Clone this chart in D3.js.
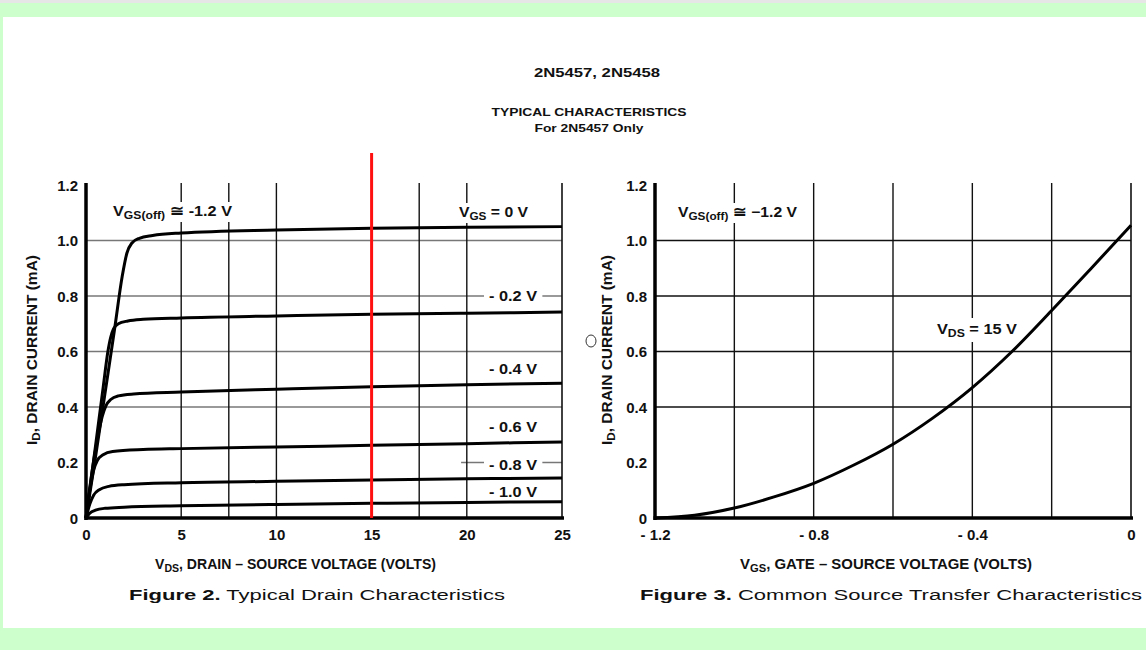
<!DOCTYPE html>
<html><head><meta charset="utf-8">
<script src="https://cdn.jsdelivr.net/npm/d3@7"></script>
<style>body{margin:0;background:#ccffcc}svg{display:block}</style>
</head><body>
<svg id="c" width="1146" height="650"></svg>
<script>
// ---------- data ----------
const leftXTicks = [0,5,10,15,20,25];
const leftXTickLabels = ["0","5","10","15","20","25"];
const leftYTicks = [0,0.2,0.4,0.6,0.8,1.0,1.2];
const leftYTickLabels = ["0","0.2","0.4","0.6","0.8","1.0","1.2"];
const leftVGrid = [5,7.5,10,17.5,20];
const leftHGrid = [0.4,0.6,0.8,1.0];
const leftHGridPartial = [0.2];
const markerVds = 15;

const vgs0   = [[0,0],[0.5,0.22],[1,0.45],[1.5,0.68],[1.9,0.87],[2.15,0.955],[2.4,0.99],[2.8,1.008],[3.5,1.018],[5,1.027],[10,1.038],[15,1.044],[20,1.048],[25,1.05]];
const vgsM02 = [[0,0],[0.5,0.26],[0.9,0.47],[1.15,0.6],[1.3,0.652],[1.45,0.682],[1.7,0.7],[2.2,0.71],[3,0.716],[5,0.721],[10,0.728],[15,0.734],[20,0.738],[25,0.742]];
const vgsM04 = [[0,0],[0.3,0.16],[0.6,0.285],[0.85,0.365],[1.05,0.405],[1.3,0.427],[1.7,0.44],[2.5,0.447],[5,0.454],[10,0.464],[15,0.473],[20,0.48],[25,0.486]];
const vgsM06 = [[0,0],[0.2,0.1],[0.4,0.172],[0.6,0.208],[0.9,0.228],[1.4,0.24],[3,0.247],[5,0.25],[10,0.256],[15,0.262],[20,0.268],[25,0.274]];
const vgsM08 = [[0,0],[0.2,0.05],[0.4,0.082],[0.7,0.102],[1.2,0.114],[2,0.12],[5,0.127],[10,0.132],[15,0.137],[20,0.141],[25,0.144]];
const vgsM10 = [[0,0],[0.2,0.017],[0.5,0.028],[1,0.035],[2,0.039],[5,0.044],[10,0.049],[15,0.053],[20,0.056],[25,0.059]];
const drainSeries = [vgs0, vgsM02, vgsM04, vgsM06, vgsM08, vgsM10];

const rightXTicks = [-1.2,-0.8,-0.4,0];
const rightXTickLabels = ["- 1.2","- 0.8","- 0.4","0"];
const rightYTicks = [0,0.2,0.4,0.6,0.8,1.0,1.2];
const rightYTickLabels = ["0","0.2","0.4","0.6","0.8","1.0","1.2"];
const rightVGrid = [-1.0,-0.8,-0.6,-0.4,-0.2];
const rightHGrid = [0.4,0.6,0.8,1.0];
const transfer = [[-1.2,0],[-1.1,0.01],[-1.0,0.036],[-0.9,0.076],[-0.8,0.125],[-0.7,0.19],[-0.6,0.266],[-0.5,0.36],[-0.4,0.47],[-0.3,0.6],[-0.2,0.748],[-0.1,0.9],[0,1.055]];

// ---------- drawing ----------
const svg = d3.select("#c");
const FONT = "'Liberation Sans Narrow','Arial Narrow','Liberation Sans',Arial,sans-serif";
const FONT2 = "'Liberation Sans',Arial,Helvetica,sans-serif";

// background
svg.append("rect").attr("x",0).attr("y",0).attr("width",1146).attr("height",650).attr("fill","#ccffcc");
svg.append("rect").attr("x",0).attr("y",0).attr("width",1146).attr("height",3).attr("fill","#e6e6e6");
svg.append("rect").attr("x",3).attr("y",17).attr("width",1143).attr("height",611).attr("fill","#ffffff");

// titles
function txt(g,x,y,s,size,weight,anchor,family){
  return g.append("text").attr("x",x).attr("y",y).attr("font-size",size).attr("font-weight",weight||"bold")
    .attr("text-anchor",anchor||"middle").attr("font-family",family||FONT2).attr("fill","#111").text(s);
}
txt(svg,597,77,"2N5457, 2N5458",12.5,"bold","middle").attr("textLength",126).attr("lengthAdjust","spacingAndGlyphs");
txt(svg,589,116,"TYPICAL CHARACTERISTICS",10.5,"bold","middle").attr("textLength",195).attr("lengthAdjust","spacingAndGlyphs");
txt(svg,589,132,"For 2N5457 Only",10.5,"bold","middle").attr("textLength",109).attr("lengthAdjust","spacingAndGlyphs");

// subscript label helper
function subLabel(g,x,y,parts,size,anchor,len){
  const t = g.append("text").attr("x",x).attr("y",y).attr("font-size",size).attr("font-weight","bold")
    .attr("font-family",FONT).attr("fill","#111").attr("text-anchor",anchor||"start");
  let shifted=0;
  parts.forEach(p=>{
    const sp = t.append("tspan").text(p[0]);
    if(p[1]==="sub"){ sp.attr("font-size",size*0.75).attr("dy",3-shifted); shifted=3; }
    else { if(shifted){ sp.attr("dy",-shifted); shifted=0; } }
  });
  if(len) t.attr("textLength",len).attr("lengthAdjust","spacingAndGlyphs");
  return t;
}
function bgRect(g,t,padX,padY){
  const b = t.node().getBBox();
  g.insert("rect",function(){return t.node();})
   .attr("x",b.x-padX).attr("y",b.y-padY).attr("width",b.width+2*padX).attr("height",b.height+2*padY).attr("fill","#fff");
}

function panel(opt){
  const g = svg.append("g");
  const x = opt.x, y = opt.y;
  const [x0,x1] = x.range(), [yb,yt] = y.range();
  // grid
  g.selectAll(null).data(opt.hgrid).join("line")
    .attr("x1",x0).attr("x2",x1).attr("y1",d=>y(d)).attr("y2",d=>y(d))
    .attr("stroke",opt.hcol).attr("stroke-width",1.3);
  if(opt.hgridPartial){
    g.selectAll(null).data(opt.hgridPartial).join("line")
      .attr("x1",x(opt.partialFrom)).attr("x2",x1).attr("y1",d=>y(d)).attr("y2",d=>y(d))
      .attr("stroke",opt.hcol).attr("stroke-width",1.3);
  }
  g.selectAll(null).data(opt.vgrid).join("line")
    .attr("x1",d=>x(d)).attr("x2",d=>x(d)).attr("y1",yb).attr("y2",yt-2)
    .attr("stroke","#111").attr("stroke-width",1.4);
  // right border
  g.append("line").attr("x1",x1).attr("x2",x1).attr("y1",yb).attr("y2",yt-2).attr("stroke","#111").attr("stroke-width",1.6);
  const labels = g.append("g");
  const curves = g.append("g");
  const axes = g.append("g");
  // axes
  const ax = d3.axisBottom(x).tickValues(opt.xticks).tickSize(0).tickPadding(11)
     .tickFormat((d,i)=>opt.xlabels[i]);
  const axG = axes.append("g").attr("transform",`translate(0,${yb})`).call(ax);
  const ay = d3.axisLeft(y).tickValues(opt.yticks).tickSize(0).tickPadding(8)
     .tickFormat((d,i)=>opt.ylabels[i]);
  const ayG = axes.append("g").attr("transform",`translate(${x0},0)`).call(ay);
  [axG,ayG].forEach(a=>{
    a.attr("font-size",null).attr("font-family",null);
    a.select(".domain").remove();
    a.selectAll("text").attr("font-family",FONT).attr("font-weight","bold").style("font-size","15px").attr("fill","#111");
  });
  ayG.selectAll("text").attr("dy","0.36em");
  axes.append("line").attr("x1",x0).attr("x2",x0).attr("y1",yt-2).attr("y2",yb+2).attr("stroke","#000").attr("stroke-width",3.5);
  axes.append("line").attr("x1",x0-1.5).attr("x2",x1+2).attr("y1",yb).attr("y2",yb).attr("stroke","#000").attr("stroke-width",3.5);
  return {g,labels,curves,axes};
}

// ---- left panel ----
const xL = d3.scaleLinear().domain([0,25]).range([86,562]);
const yL = d3.scaleLinear().domain([0,1.2]).range([518,185]);
const L = panel({x:xL,y:yL,hgrid:leftHGrid,hgridPartial:leftHGridPartial,partialFrom:19.7,hcol:"#777",vgrid:leftVGrid,
  xticks:leftXTicks,xlabels:leftXTickLabels,yticks:leftYTicks,ylabels:leftYTickLabels});

const lineL = d3.line().x(d=>xL(d[0])).y(d=>yL(d[1])).curve(d3.curveMonotoneX);
L.curves.selectAll("path").data(drainSeries).join("path")
  .attr("d",lineL).attr("fill","none").attr("stroke","#000").attr("stroke-width",3).attr("stroke-linejoin","round");

let t;
t = subLabel(L.labels,113,216,[["V"],["GS(off)","sub"],[" ≅  -1.2 V"]],14.5,"start",119); bgRect(L.labels,t,3,1);
t = subLabel(L.labels,459,217,[["V"],["GS","sub"],[" = 0 V"]],14.5,"start",69); bgRect(L.labels,t,3,1);
t = subLabel(L.labels,489,301,[["- 0.2 V"]],14.5,"start",48); bgRect(L.labels,t,5,0);
t = subLabel(L.labels,489,374,[["- 0.4 V"]],14.5,"start",48);
t = subLabel(L.labels,489,432,[["- 0.6 V"]],14.5,"start",48);
t = subLabel(L.labels,489,470,[["- 0.8 V"]],14.5,"start",48); bgRect(L.labels,t,5,0);
t = subLabel(L.labels,489,497,[["- 1.0 V"]],14.5,"start",48);

// red marker line
L.axes.append("line").attr("x1",xL(markerVds)).attr("x2",xL(markerVds)).attr("y1",153).attr("y2",518)
  .attr("stroke","#ff1010").attr("stroke-width",3);

// axis titles
subLabel(svg,155,569,[["V"],["DS","sub"],[", DRAIN – SOURCE VOLTAGE (VOLTS)"]],15,"start",281);
const ytL = svg.append("g").attr("transform","translate(37,445) rotate(-90)");
subLabel(ytL,0,0,[["I"],["D","sub"],[", DRAIN CURRENT (mA)"]],15,"start",190);

// captions
function caption(x,y,b,r,len){
  const c = svg.append("text").attr("x",x).attr("y",y).attr("font-size",15.5).attr("font-family",FONT2).attr("fill","#111");
  c.append("tspan").attr("font-weight","bold").text(b);
  c.append("tspan").text(r);
  c.attr("textLength",len).attr("lengthAdjust","spacingAndGlyphs");
}
caption(129,600,"Figure 2.", " Typical Drain Characteristics",376);

// ---- right panel ----
const xR = d3.scaleLinear().domain([-1.2,0]).range([655,1131]);
const yR = d3.scaleLinear().domain([0,1.2]).range([518,185]);
const R = panel({x:xR,y:yR,hgrid:rightHGrid,hcol:"#111",vgrid:rightVGrid,
  xticks:rightXTicks,xlabels:rightXTickLabels,yticks:rightYTicks,ylabels:rightYTickLabels});
const lineR = d3.line().x(d=>xR(d[0])).y(d=>yR(d[1])).curve(d3.curveMonotoneX);
R.curves.append("path").datum(transfer).attr("d",lineR).attr("fill","none").attr("stroke","#000").attr("stroke-width",3);

t = subLabel(R.labels,678,217,[["V"],["GS(off)","sub"],[" ≅  −1.2 V"]],14.5,"start",119); bgRect(R.labels,t,3,1);
t = subLabel(R.labels,937,334,[["V"],["DS","sub"],[" = 15 V"]],14.5,"start",80); bgRect(R.labels,t,3,3);

subLabel(svg,740,569,[["V"],["GS","sub"],[", GATE – SOURCE VOLTAGE (VOLTS)"]],15,"start",292);
const ytR = svg.append("g").attr("transform","translate(612,445) rotate(-90)");
subLabel(ytR,0,0,[["I"],["D","sub"],[", DRAIN CURRENT (mA)"]],15,"start",190);
svg.append("ellipse").attr("cx",591).attr("cy",341).attr("rx",5).attr("ry",6).attr("fill","none").attr("stroke","#333").attr("stroke-width",1);

caption(640,600,"Figure 3.", " Common Source Transfer Characteristics",502);
</script>
</body></html>
